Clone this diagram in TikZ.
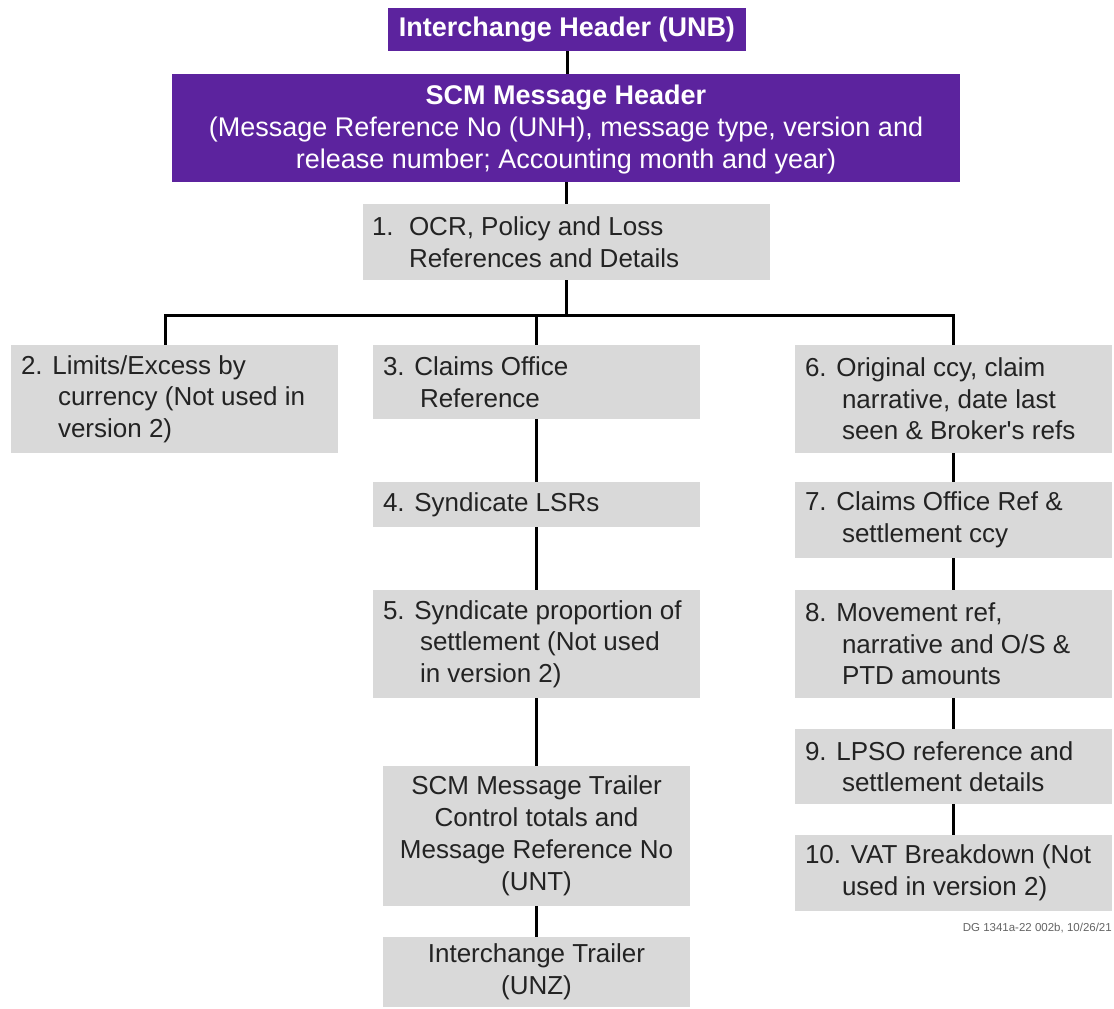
\documentclass[tikz,border=0pt]{standalone}
\usepackage{fontspec}
\setmainfont{Liberation Sans}
\definecolor{scmpurple}{RGB}{92,35,158}
\definecolor{boxgray}{RGB}{217,217,217}
\definecolor{txtdark}{RGB}{35,35,35}
\definecolor{notegray}{RGB}{100,100,100}
\tikzset{
  pbox/.style={fill=scmpurple, draw=none, inner sep=0pt, text=white, align=center,
               font=\fontsize{27}{32}\selectfont},
  gbox/.style={fill=boxgray, draw=none, inner sep=0pt},
  gtxt/.style={anchor=west, align=left, inner sep=0pt, text=txtdark,
               font=\fontsize{26}{31.5}\selectfont},
  ctxt/.style={align=center, inner sep=0pt, text=txtdark,
               font=\fontsize{26}{32}\selectfont},
  wire/.style={line width=3pt, black},
}
\newcommand{\ind}{\hspace*{37pt}}
\begin{document}
\begin{tikzpicture}[x=1pt, y=-1pt]
\useasboundingbox (0,0) rectangle (1114,1009);

% purple headers
\node[pbox, minimum width=358pt, minimum height=43pt] (unb) at (567,29.5)
  {\textbf{Interchange Header (UNB)}};
\node[pbox, minimum width=788pt, minimum height=108pt] (scm) at (566,128)
  {};
\node[pbox] (scmt) at (566,130)
  {\textbf{SCM Message Header}\\(Message Reference No (UNH), message type, version and\\release number; Accounting month and year)};

% grey boxes
\node[gbox, minimum width=407pt, minimum height=76pt] (b1) at (566.5,242) {};
\node[gbox, minimum width=327pt, minimum height=108pt] (b2) at (174.5,399) {};
\node[gbox, minimum width=327pt, minimum height=74pt] (b3) at (536.5,382) {};
\node[gbox, minimum width=327pt, minimum height=45pt] (b4) at (536.5,504.5) {};
\node[gbox, minimum width=327pt, minimum height=108pt] (b5) at (536.5,644) {};
\node[gbox, minimum width=307pt, minimum height=140pt] (tr) at (536.5,836) {};
\node[gbox, minimum width=307pt, minimum height=70pt] (unz) at (536.5,972) {};
\node[gbox, minimum width=317pt, minimum height=108pt] (b6) at (953.5,399) {};
\node[gbox, minimum width=317pt, minimum height=76pt] (b7) at (953.5,520) {};
\node[gbox, minimum width=317pt, minimum height=108pt] (b8) at (953.5,644) {};
\node[gbox, minimum width=317pt, minimum height=75pt] (b9) at (953.5,766.5) {};
\node[gbox, minimum width=317pt, minimum height=76pt] (b10) at (953.5,873) {};

% texts
\node[gtxt] (t1) at ([xshift=9pt]b1.west)
  {\makebox[37pt][l]{1.}OCR, Policy and Loss\\\ind References and Details};
\node[gtxt] (t2) at ([xshift=10pt]b2.west)
  {2. Limits/Excess by\\\ind currency (Not used in\\\ind version 2)};
\node[gtxt] (t3) at ([xshift=10pt]b3.west)
  {3. Claims Office\\\ind Reference};
\node[gtxt] (t4) at ([xshift=10pt]b4.west)
  {4. Syndicate LSRs};
\node[gtxt] (t5) at ([xshift=10pt]b5.west)
  {5. Syndicate proportion of\\\ind settlement (Not used\\\ind in version 2)};
\node[ctxt] (ttr) at (tr.center)
  {SCM Message Trailer\\Control totals and\\Message Reference No\\(UNT)};
\node[ctxt] (tunz) at (unz.center)
  {Interchange Trailer\\(UNZ)};
\node[gtxt] (t6) at ([xshift=10pt]b6.west)
  {6. Original ccy, claim\\\ind narrative, date last\\\ind seen \& Broker\textquotesingle s refs};
\node[gtxt] (t7) at ([xshift=10pt]b7.west)
  {7. Claims Office Ref \&\\\ind settlement ccy};
\node[gtxt] (t8) at ([xshift=10pt]b8.west)
  {8. Movement ref,\\\ind narrative and O/S \&\\\ind PTD amounts};
\node[gtxt] (t9) at ([xshift=10pt]b9.west)
  {9. LPSO reference and\\\ind settlement details};
\node[gtxt] (t10) at ([xshift=10pt]b10.west)
  {10. VAT Breakdown (Not\\\ind used in version 2)};

\node[anchor=east, inner sep=0pt, text=notegray, font=\fontsize{11.5}{13}\selectfont]
  (note) at (1112,928) {DG 1341a-22 002b, 10/26/21};

% connectors
\coordinate (busL) at (165,315);
\coordinate (busR) at (953.5,315);
\draw[wire] (unb.south) -- (unb.south |- scm.north);
\draw[wire] (scm.south -| b1.south) -- (b1.north);
\draw[wire] (b1.south) -- (b1.south |- busL);
\draw[wire, line cap=rect] (busL) -- (busR);
\draw[wire] (busL) -- (busL |- b2.north);
\draw[wire] (b3.north |- busL) -- (b3.north);
\draw[wire] (busR) -- (b6.north);
\draw[wire] (b3.south) -- (b4.north);
\draw[wire] (b4.south) -- (b5.north);
\draw[wire] (b5.south) -- (tr.north);
\draw[wire] (tr.south) -- (unz.north);
\draw[wire] (b6.south) -- (b7.north);
\draw[wire] (b7.south) -- (b8.north);
\draw[wire] (b8.south) -- (b9.north);
\draw[wire] (b9.south) -- (b10.north);
\end{tikzpicture}
\end{document}
